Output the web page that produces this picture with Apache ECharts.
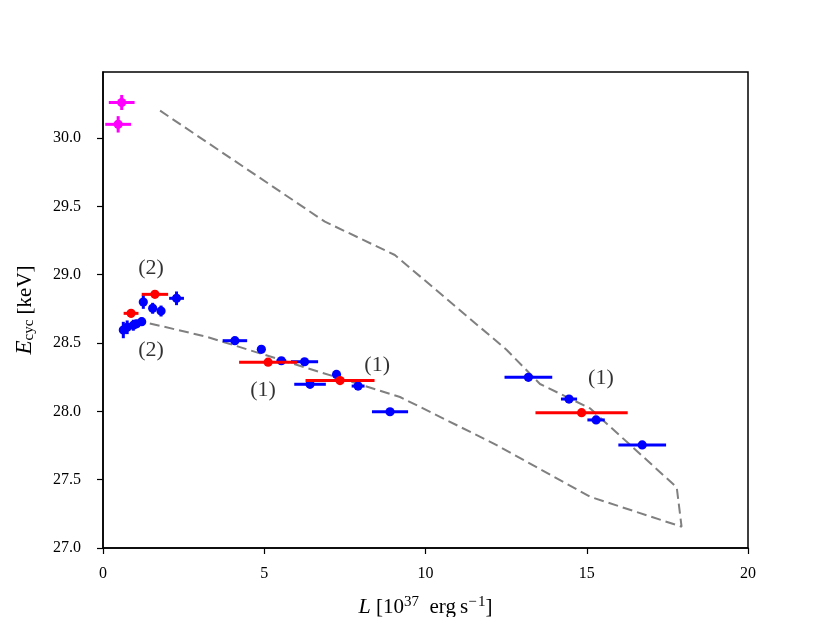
<!DOCTYPE html>
<html><head><meta charset="utf-8">
<script src="https://cdn.jsdelivr.net/npm/echarts@6/dist/echarts.min.js"></script>
<style>html,body{margin:0;padding:0;background:#fff}#c{width:831px;height:617px}</style>
</head><body><div id="c"></div>
<script>
// Magenta points
const magX = [0.58, 0.47];
const magY = [30.26, 30.10];
const magXerr = [0.40, 0.40];
const magYerr = [0.055, 0.06];
// Red points
const redX = [0.87, 1.61, 5.12, 7.35, 14.84];
const redY = [28.717, 28.856, 28.36, 28.225, 27.99];
const redXerr = [0.23, 0.41, 0.90, 1.07, 1.43];
const redYerr = [0.03, 0.02, 0.01, 0.01, 0.01];
// Blue points
const blueX = [0.63, 0.75, 0.94, 1.04, 1.20, 1.25, 1.54, 1.80, 2.28, 4.09, 4.91, 5.53, 6.25, 6.42, 7.24, 7.91, 8.90, 13.19, 14.45, 15.29, 16.72];
const blueY = [28.595, 28.615, 28.63, 28.64, 28.656, 28.80, 28.754, 28.734, 28.827, 28.517, 28.454, 28.37, 28.363, 28.198, 28.27, 28.185, 27.997, 28.249, 28.09, 27.937, 27.754];
const blueXerr = [0.10, 0.10, 0.10, 0.10, 0.12, 0.05, 0.05, 0.05, 0.23, 0.38, 0.10, 0.15, 0.42, 0.49, 0.10, 0.20, 0.56, 0.74, 0.25, 0.27, 0.74];
const blueYerr = [0.06, 0.05, 0.04, 0.03, 0.03, 0.05, 0.04, 0.04, 0.05, 0.02, 0.02, 0.02, 0.02, 0.02, 0.02, 0.02, 0.02, 0.02, 0.02, 0.02, 0.02];
// Dashed model curve (upper branch then lower branch back)
const curveX = [1.77, 6.88, 9.05, 12.52, 13.55, 15.10, 17.79, 17.94, 15.10, 12.10, 9.21, 3.21, 1.35];
const curveY = [30.20, 29.388, 29.144, 28.449, 28.20, 28.022, 27.444, 27.156, 27.375, 27.766, 28.105, 28.546, 28.649];
// Annotations
const annText = ['(2)', '(2)', '(1)', '(1)', '(1)'];
const annX = [1.49, 1.49, 4.96, 8.50, 15.44];
const annY = [29.05, 28.449, 28.156, 28.339, 28.244];
// Ticks
const xTicks = [0, 5, 10, 15, 20];
const yTicks = [27.0, 27.5, 28.0, 28.5, 29.0, 29.5, 30.0];

const serif = 'Liberation Serif';

function errSeries(name, xs, ys, xe, ye, color, r) {
  const data = xs.map((x, i) => [x, ys[i], xe[i], ye[i]]);
  return {
    type: 'custom', name, data, z: 5,
    encode: { x: 0, y: 1 },
    renderItem: (params, api) => {
      const x = api.value(0), y = api.value(1), dx = api.value(2), dy = api.value(3);
      const c = api.coord([x, y]);
      const l = api.coord([x - dx, y]), rr = api.coord([x + dx, y]);
      const t = api.coord([x, y + dy]), b = api.coord([x, y - dy]);
      return {
        type: 'group', children: [
          { type: 'line', shape: { x1: l[0], y1: l[1], x2: rr[0], y2: rr[1] }, style: { stroke: color, lineWidth: 3 } },
          { type: 'line', shape: { x1: t[0], y1: t[1], x2: b[0], y2: b[1] }, style: { stroke: color, lineWidth: 3 } },
          { type: 'circle', shape: { cx: c[0], cy: c[1], r: r }, style: { fill: color } }
        ]
      };
    }
  };
}

const chart = echarts.init(document.getElementById('c'), null, { renderer: 'canvas' });
chart.setOption({
  animation: false,
  backgroundColor: '#fff',
  grid: { left: 103, right: 83, top: 72, bottom: 69, containLabel: false, outerBoundsMode: 'none', show: true, borderColor: '#000', borderWidth: 1.5, backgroundColor: 'transparent' },
  xAxis: {
    type: 'value', min: xTicks[0], max: xTicks[xTicks.length - 1], interval: 5,
    axisLine: { show: true, lineStyle: { color: '#000', width: 1.5 } },
    axisTick: { show: true, length: 6, lineStyle: { color: '#000', width: 1.2 } },
    splitLine: { show: false },
    axisLabel: { color: '#000', fontFamily: serif, fontSize: 16, margin: 18, formatter: v => String(v) },
    name: '{i|L}{n| [10}{sup|37}{n|\u2002erg\u2009s}{sup|\u2212\u200a1}{n|]}',
    nameLocation: 'middle', nameGap: 47,
    nameTextStyle: {
      color: '#000', fontFamily: serif, fontSize: 21,
      rich: {
        i: { fontFamily: serif, fontStyle: 'italic', fontSize: 22, color: '#000' },
        n: { fontFamily: serif, fontSize: 21, color: '#000' },
        sup: { fontFamily: serif, fontSize: 15, color: '#000', verticalAlign: 'top', padding: [0, 0, 10, 0] }
      }
    }
  },
  yAxis: {
    type: 'value', min: 27, max: 30.483, interval: 0.5,
    axisLine: { show: true, lineStyle: { color: '#000', width: 1.5 } },
    axisTick: { show: true, length: 6, lineStyle: { color: '#000', width: 1.2 } },
    splitLine: { show: false },
    axisLabel: { color: '#000', fontFamily: serif, fontSize: 16, margin: 22, showMaxLabel: false, formatter: v => v.toFixed(1) },
    name: '{i|E}{sub|cyc}{n| [keV]}',
    nameLocation: 'middle', nameGap: 66, nameRotate: 90,
    nameTextStyle: {
      color: '#000', fontFamily: serif, fontSize: 21,
      rich: {
        i: { fontFamily: serif, fontStyle: 'italic', fontSize: 23, color: '#000' },
        n: { fontFamily: serif, fontSize: 21, color: '#000' },
        sub: { fontFamily: serif, fontSize: 15, color: '#000', verticalAlign: 'bottom', padding: [9, 0, 0, 0] }
      }
    }
  },
  series: [
    {
      type: 'line', data: curveX.map((x, i) => [x, curveY[i]]), symbol: 'none', z: 2,
      lineStyle: { color: '#808080', width: 2, type: [10, 5] }
    },
    errSeries('blue', blueX, blueY, blueXerr, blueYerr, '#0000ff', 4.6),
    errSeries('red', redX, redY, redXerr, redYerr, '#ff0000', 4.6),
    errSeries('magenta', magX, magY, magXerr, magYerr, '#ff00ff', 4.6),
    {
      type: 'scatter', symbolSize: 0, z: 6,
      data: annX.map((x, i) => ({ value: [x, annY[i]], name: annText[i] })),
      label: { show: true, position: 'inside', formatter: p => p.name, color: '#000', fontFamily: serif, fontSize: 22 }
    }
  ]
});
</script>
</body></html>
